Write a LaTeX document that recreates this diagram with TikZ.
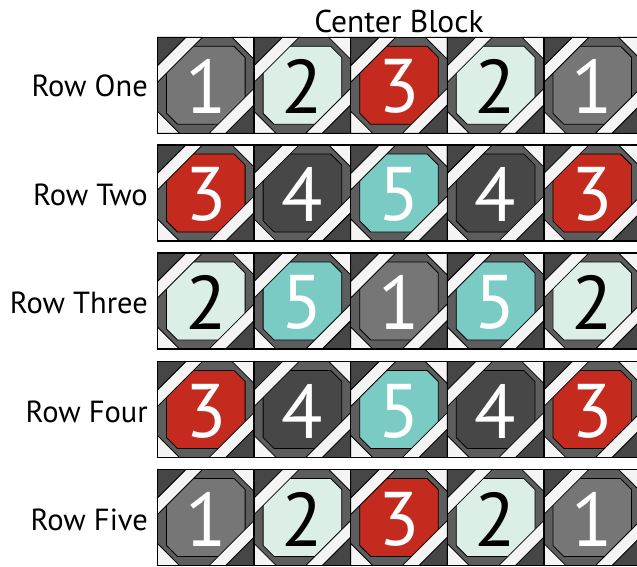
\documentclass[tikz,border=0pt]{standalone}
\usepackage{fontspec}
\setmainfont{PT Sans}
\definecolor{frameg}{HTML}{5D5D5D}
\definecolor{tipg}{HTML}{464646}
\definecolor{lightw}{HTML}{F4F4F4}
\definecolor{cone}{HTML}{767676}
\definecolor{ctwo}{HTML}{DCEFE6}
\definecolor{cthree}{HTML}{C42A1E}
\definecolor{cfour}{HTML}{474747}
\definecolor{cfive}{HTML}{7ACBC4}
\def\W{96.6}
\def\H{96}
\tikzset{
  piece/.style={draw=black, line width=0.8pt},
  digit/.style={inner sep=0pt, font=\fontsize{76}{76}\selectfont},
  lab/.style={inner sep=0pt, anchor=east, font=\fontsize{30.5}{30.5}\selectfont},
  ttl/.style={inner sep=0pt, font=\fontsize{31.5}{31.5}\selectfont}
}
\newcommand\qblock[6]{%
  \begin{scope}[shift={(#2,#3)}]
    \fill[frameg] (0,0) rectangle (\W,\H);
    \filldraw[piece, fill=#4] (9,9) -- (\W-20,9) -- (\W-9,20) -- (\W-9,\H-9) -- (20,\H-9) -- (9,\H-20) -- cycle;
    \filldraw[piece, fill=lightw] (\W-22,0) -- (\W,0) -- (\W,22) -- cycle;
    \filldraw[piece, fill=lightw] (0,\H-22) -- (0,\H) -- (22,\H) -- cycle;
    \filldraw[piece, fill=tipg] (0,0) -- (28.5,0) -- (0,28.5) -- cycle;
    \filldraw[piece, fill=lightw] (28.5,0) -- (45,0) -- (0,45) -- (0,28.5) -- cycle;
    \filldraw[piece, fill=tipg] (\W,\H) -- (\W-28.5,\H) -- (\W,\H-28.5) -- cycle;
    \filldraw[piece, fill=lightw] (\W-28.5,\H) -- (\W-45,\H) -- (\W,\H-45) -- (\W,\H-28.5) -- cycle;
    \draw[black, line width=1.3pt] (0,0) rectangle (\W,\H);
  \end{scope}
  \node[digit, text=#5] (#1) at (#2+\W/2, #3+\H/2+1.5) {#6};
}
\newcommand\qone[3]{\qblock{#1}{#2}{#3}{cone}{white}{1}}
\newcommand\qtwo[3]{\qblock{#1}{#2}{#3}{ctwo}{black}{2}}
\newcommand\qthree[3]{\qblock{#1}{#2}{#3}{cthree}{white}{3}}
\newcommand\qfour[3]{\qblock{#1}{#2}{#3}{cfour}{white}{4}}
\newcommand\qfive[3]{\qblock{#1}{#2}{#3}{cfive}{white}{5}}
\begin{document}
\begin{tikzpicture}[x=1pt, y=-1pt]
  \clip (0,0) rectangle (637,566);
  \fill[white] (0,0) rectangle (637,566);
  \def\ca{157.5}\def\cb{254.1}\def\cc{350.7}\def\cd{447.3}\def\ce{543.9}
  \def\ra{37.3}\def\rb{145}\def\rc{253}\def\rd{361.5}\def\re{469.5}
  % row one
  \qone{a1}{\ca}{\ra}\qtwo{a2}{\cb}{\ra}\qthree{a3}{\cc}{\ra}\qtwo{a4}{\cd}{\ra}\qone{a5}{\ce}{\ra}
  % row two
  \qthree{b1}{\ca}{\rb}\qfour{b2}{\cb}{\rb}\qfive{b3}{\cc}{\rb}\qfour{b4}{\cd}{\rb}\qthree{b5}{\ce}{\rb}
  % row three
  \qtwo{c1}{\ca}{\rc}\qfive{c2}{\cb}{\rc}\qone{c3}{\cc}{\rc}\qfive{c4}{\cd}{\rc}\qtwo{c5}{\ce}{\rc}
  % row four
  \qthree{d1}{\ca}{\rd}\qfour{d2}{\cb}{\rd}\qfive{d3}{\cc}{\rd}\qfour{d4}{\cd}{\rd}\qthree{d5}{\ce}{\rd}
  % row five
  \qone{e1}{\ca}{\re}\qtwo{e2}{\cb}{\re}\qthree{e3}{\cc}{\re}\qtwo{e4}{\cd}{\re}\qone{e5}{\ce}{\re}
  % labels
  \node[ttl] (title) at (399,21) {Center Block};
  \node[lab] (l1) at (148,86) {Row One};
  \node[lab] (l2) at (148,195) {Row Two};
  \node[lab] (l3) at (148,303) {Row Three};
  \node[lab] (l4) at (148,412) {Row Four};
  \node[lab] (l5) at (148,520) {Row Five};
\end{tikzpicture}
\end{document}
